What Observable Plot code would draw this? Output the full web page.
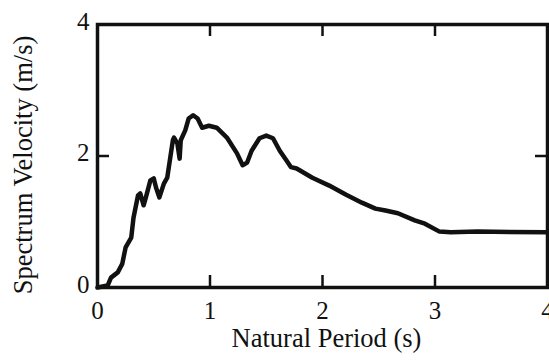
<!DOCTYPE html>
<html>
<head>
<meta charset="utf-8">
<script src="https://cdn.jsdelivr.net/npm/d3@7"></script>
<script src="https://cdn.jsdelivr.net/npm/@observablehq/plot@0.6"></script>
<style>
  html, body { margin: 0; padding: 0; background: #ffffff; }
  #chart { width: 549px; height: 362px; overflow: hidden; }
</style>
</head>
<body>
<div id="chart"></div>
<script>
// Natural period (s)
const period = [0,0.09,0.12,0.18,0.22,0.25,0.30,0.32,0.36,0.38,0.41,0.43,0.47,0.50,0.52,0.55,0.59,0.62,0.67,0.68,0.71,0.73,0.74,0.78,0.81,0.85,0.89,0.93,0.99,1.06,1.15,1.24,1.29,1.33,1.37,1.44,1.50,1.56,1.62,1.68,1.72,1.77,1.91,2.06,2.21,2.35,2.47,2.56,2.67,2.82,2.91,3.04,3.14,3.38,4.0];
// Spectrum velocity (m/s)
const velocity = [0,0.03,0.15,0.23,0.36,0.61,0.76,1.06,1.40,1.43,1.25,1.37,1.63,1.66,1.52,1.37,1.58,1.67,2.24,2.28,2.19,1.96,2.24,2.39,2.57,2.62,2.57,2.43,2.46,2.43,2.28,2.04,1.86,1.90,2.08,2.27,2.31,2.27,2.08,1.93,1.83,1.81,1.67,1.55,1.41,1.29,1.20,1.17,1.13,1.02,0.97,0.85,0.84,0.85,0.84];

const xTickLabels = [0, 1, 2, 3, 4];
const yTickLabels = [0, 2, 4];
const xInnerTicks = [1, 2, 3];
const yInnerTicks = [2];
const xTitle = "Natural Period (s)";
const yTitle = "Spectrum Velocity (m/s)";

const data = period.map((t, i) => ({t, v: velocity[i]}));

const W = 549, H = 362;
const mL = 97, mR = 2, mT = 24, mB = 75;
const plotW = W - mL - mR, plotH = H - mT - mB;
const tickLen = 12;

const chart = Plot.plot({
  width: W,
  height: H,
  marginLeft: mL,
  marginRight: mR,
  marginTop: mT,
  marginBottom: mB,
  style: {fontFamily: "'Liberation Serif', 'Times New Roman', serif", background: "#ffffff", color: "#111"},
  x: {domain: [0, 4]},
  y: {domain: [0, 4]},
  marks: [
    Plot.axisX(xTickLabels, {tickSize: 0, tickPadding: 14, fontSize: 25, label: null, tickFormat: d => String(d)}),
    Plot.axisY(yTickLabels, {tickSize: 0, tickPadding: 8, fontSize: 25, label: null, dy: -3, tickFormat: d => String(d)}),
    // inward ticks
    Plot.tickX(xInnerTicks, {x: d => d, insetTop: plotH - tickLen, stroke: "#111", strokeWidth: 2.5}),
    Plot.tickX(xInnerTicks, {x: d => d, insetBottom: plotH - tickLen, stroke: "#111", strokeWidth: 2.5}),
    Plot.tickY(yInnerTicks, {y: d => d, insetRight: plotW - tickLen, stroke: "#111", strokeWidth: 2.5}),
    Plot.tickY(yInnerTicks, {y: d => d, insetLeft: plotW - tickLen, stroke: "#111", strokeWidth: 2.5}),
    Plot.frame({stroke: "#111", strokeWidth: 3.5}),
    Plot.line(data, {x: "t", y: "v", stroke: "#111", strokeWidth: 4.5, strokeLinejoin: "round", strokeLinecap: "round"}),
    Plot.text([xTitle], {frameAnchor: "bottom", textAnchor: "middle", lineAnchor: "middle", dx: 4, dy: 51, fontSize: 26.5, fill: "#111"}),
    Plot.text([yTitle], {frameAnchor: "left", textAnchor: "middle", lineAnchor: "middle", dx: -73.5, dy: 9, rotate: -90, fontSize: 26.5, fill: "#111"})
  ]
});
document.getElementById("chart").appendChild(chart);
</script>
</body>
</html>
